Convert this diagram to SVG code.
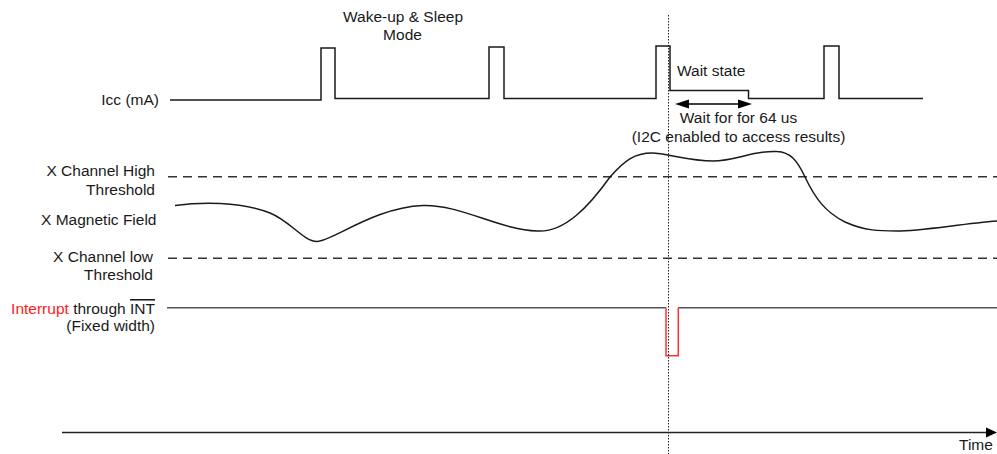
<svg xmlns="http://www.w3.org/2000/svg" width="997" height="454" viewBox="0 0 997 454">
<style>
text{font-family:"Liberation Sans",Arial,sans-serif;font-size:15.5px;fill:#1a1a1a}
.r{text-anchor:end}
.m{text-anchor:middle}
.wave{fill:none;stroke:#1a1a1a;stroke-width:1.5}
.dash{fill:none;stroke:#333;stroke-width:1.5;stroke-dasharray:9 6}
.red{fill:#ff2020}
</style>
<rect width="997" height="454" fill="#fff"/>
<g id="icc">
<text class="r" x="159" y="105">Icc (mA)</text>
<path class="wave" d="M170,100 H321 V48 H335 V98.5 H489 V47 H504 V98.5 H656 V46 H670 V90.5 H748.5 V98.5 H824 V46 H839 V98.5 H923"/>
<text class="m" x="403" y="22">Wake-up &amp; Sleep</text>
<text class="m" x="402.5" y="40">Mode</text>
<text x="677" y="76">Wait state</text>
<text class="m" x="738.5" y="122.5">Wait for for 64 us</text>
<text class="m" x="738.5" y="141.5">(I2C enabled to access results)</text>
</g>
<g id="high-threshold">
<text class="r" x="155" y="176">X Channel High</text>
<text class="r" x="155" y="195">Threshold</text>
<line class="dash" x1="168" y1="176.7" x2="997" y2="176.7"/>
</g>
<g id="magnetic-field">
<text class="r" x="156.5" y="225">X Magnetic Field</text>
<path class="wave" stroke-width="1.4" d="M175,205.5 C200,202 240,201 270,213 C290,221 303,241 317,241.5 C331,242 375,207 423,205.5 C460,204.3 500,230 537,231 C565,233 590,205 610,177 C625,160 635,153 652,153 C665,153 690,161 713,161 C735,161 755,150 777,151.5 C790,152 797,160 805,177 C815,198 825,212 845,222 C865,231 880,231 897,231 C920,231 960,224 997,221"/>
</g>
<g id="low-threshold">
<text class="r" x="153" y="262">X Channel low</text>
<text class="r" x="153" y="280">Threshold</text>
<line class="dash" x1="168" y1="258.3" x2="997" y2="258.3"/>
</g>
<g id="interrupt">
<text class="r" x="155" y="314"><tspan class="red">Interrupt</tspan> through <tspan style="text-decoration:overline">INT</tspan></text>
<text class="r" x="155" y="331">(Fixed width)</text>
<path fill="none" stroke="#555" stroke-width="1.5" d="M167,307.7 H666"/>
<path fill="none" stroke="#555" stroke-width="1.5" d="M678.3,307.7 H997"/>
<path fill="none" stroke="#ff3030" stroke-width="1.5" d="M666,307.7 V355.7 H678.3 V307.7"/>
</g>
<g id="time-axis">
<line x1="62" y1="432.5" x2="987" y2="432.5" stroke="#222" stroke-width="1.4"/>
<polygon points="986,427.5 997,432.5 986,437.5" fill="#000"/>
<text x="959" y="450">Time</text>
</g>
<g id="connectors">
<line x1="668.5" y1="15" x2="668.5" y2="454" stroke="#222" stroke-width="1" stroke-dasharray="1.5 1.5"/>
<line x1="686" y1="104" x2="741" y2="104" stroke="#000" stroke-width="1.5"/>
<polygon points="675,104 689,99.5 689,108.5" fill="#000"/>
<polygon points="752,104 738,99.5 738,108.5" fill="#000"/>
</g>
</svg>
